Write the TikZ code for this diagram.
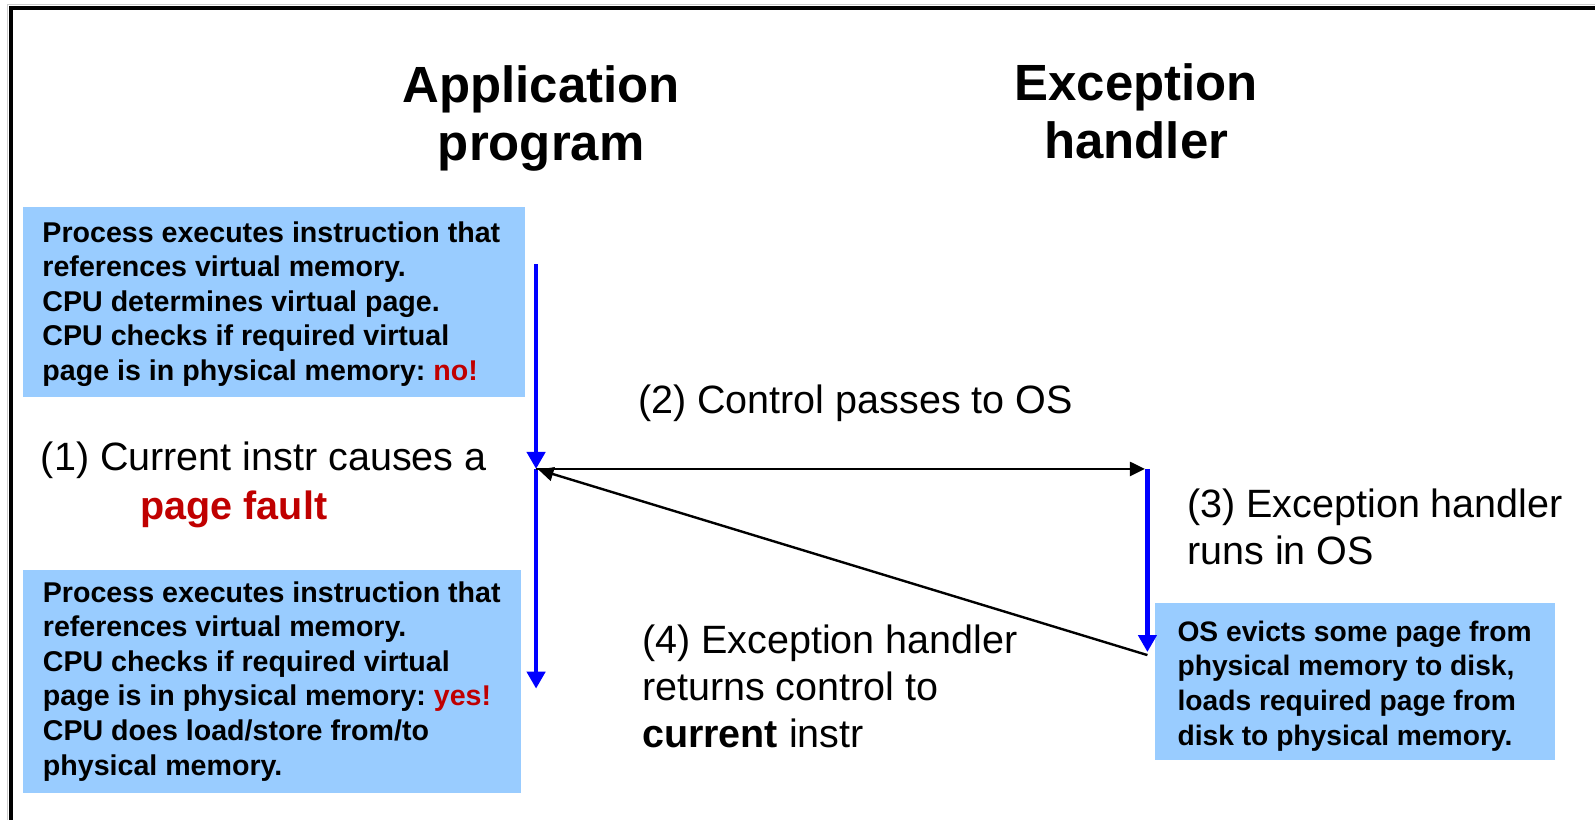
\documentclass[tikz,border=0pt]{standalone}
\usepackage{fontspec}
\setmainfont{Liberation Sans}
\usetikzlibrary{arrows.meta}
\definecolor{boxblue}{HTML}{99CCFF}
\definecolor{faultred}{HTML}{C00000}
\definecolor{flowblue}{HTML}{0000FF}

\begin{document}
\frenchspacing
\begin{tikzpicture}[x=1.0172pt,y=-1.0172pt,
  title/.style={font=\bfseries\fontsize{50.9pt}{58pt}\selectfont, align=center, inner sep=0pt},
  label/.style={font=\fontsize{39.5pt}{46.8pt}\selectfont, align=left, inner sep=0pt},
  infobox/.style={fill=boxblue, anchor=north west, inner sep=0pt, align=left,
    font=\bfseries\fontsize{28.6pt}{34.6pt}\selectfont},
  flow/.style={draw=flowblue, line width=4.5pt, -{Triangle[length=17pt,width=18pt]}},
  ctrl/.style={draw=black, line width=2.4pt, -{Triangle[length=15pt,width=14pt]}, shorten >=2.5pt}
]
\useasboundingbox (0,0) rectangle (1568,806);

% page frame
\draw[gray!40, line width=1pt] (7.5,830) -- (7.5,4.5) -- (1600,4.5);
\draw[line width=4pt] (11,830) -- (11,8) -- (1600,8);

% column headings
\node[title] (app) at (532,116) {Application\\program};
\node[title] (exc) at (1117,109) {Exception\\handler};

% explanation boxes (text block centred, lines left-aligned)
\node[infobox, minimum width=502.5pt, minimum height=190.2pt]
  (miss) at (22,203) {\rule{0pt}{25pt}Process executes instruction that\hspace*{5pt}\\references virtual memory.\\CPU determines virtual page.\\CPU checks if required virtual\\page is in physical memory: \textcolor{faultred}{no!}};
\node[infobox, minimum width=498.4pt, minimum height=222.8pt]
  (hit) at (22,560) {Process executes instruction that\\references virtual memory.\\CPU checks if required virtual\\page is in physical memory: \textcolor{faultred}{yes!}\\CPU does load/store from/to\\physical memory.};
\node[infobox, minimum width=399.8pt, minimum height=156.6pt, font=\bfseries\fontsize{28.2pt}{34.6pt}\selectfont]
  (evict) at (1135,593) {\rule{0pt}{29pt}OS evicts some page from\\physical memory to disk,\\loads required page from\\disk to physical memory.};

% step labels
\node[label, anchor=west] (s1) at (40,452) {(1) Current instr causes a};
\node[label, anchor=center, font=\bfseries\fontsize{39.5pt}{46.8pt}\selectfont, text=faultred] (pf) at (230,501) {page fault};
\node[label, anchor=center] (s2) at (841,396) {(2) Control passes to OS};
\node[label, anchor=west] (s3) at (1167,518) {(3) Exception handler\\runs in OS};
\node[label, anchor=west] (s4) at (631,675) {(4) Exception handler\\returns control to\\\textbf{current} instr};

% control-flow points
\coordinate (appstart) at (527,260);
\coordinate (fault) at (527,461);
\coordinate (append) at (527,677);
\coordinate (osin) at (1128,461);
\coordinate (osend) at (1128,641);
\coordinate (osret) at (1128,644);

% execution timelines
\draw[flow] (appstart) -- (fault);
\draw[flow] (fault) -- (append);
\draw[flow] (osin) -- (osend);

% transfers of control
\draw[ctrl] (fault) -- (osin);
\draw[ctrl] (osret) -- (fault);
\end{tikzpicture}
\end{document}
